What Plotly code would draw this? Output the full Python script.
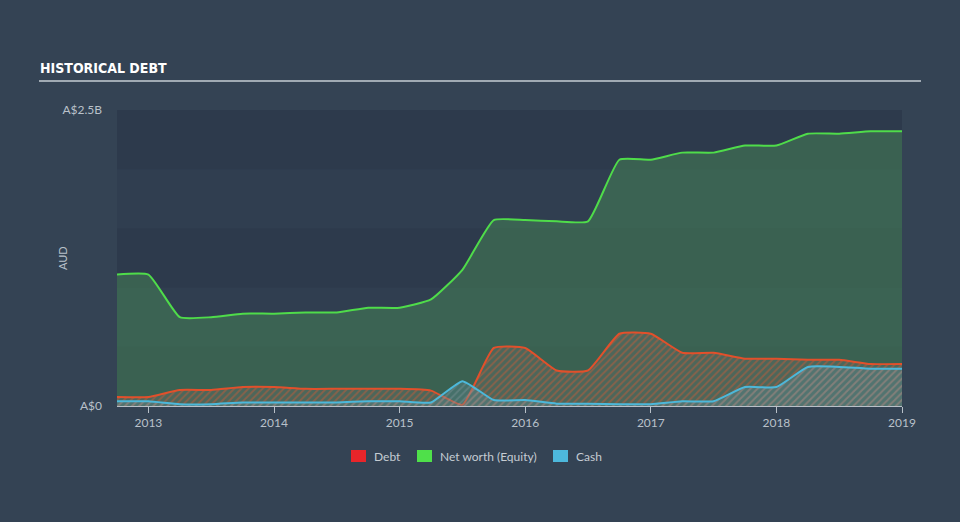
import plotly.graph_objects as go

# Quarterly time points (decimal years)
dates = [2012.75, 2013.0, 2013.25, 2013.5, 2013.75, 2014.0, 2014.25, 2014.5, 2014.75,
         2015.0, 2015.25, 2015.5, 2015.75, 2016.0, 2016.25, 2016.5, 2016.75, 2017.0,
         2017.25, 2017.5, 2017.75, 2018.0, 2018.25, 2018.5, 2018.75, 2019.0]

# Values in billions AUD
equity = [1.11, 1.11, 0.75, 0.75, 0.78, 0.78, 0.79, 0.79, 0.83,
          0.83, 0.90, 1.15, 1.57, 1.57, 1.56, 1.56, 2.08, 2.08,
          2.14, 2.14, 2.20, 2.20, 2.30, 2.30, 2.32, 2.32]
debt = [0.076, 0.076, 0.135, 0.135, 0.16, 0.16, 0.145, 0.145, 0.145,
        0.145, 0.13, 0.01, 0.49, 0.49, 0.30, 0.30, 0.61, 0.61,
        0.45, 0.45, 0.40, 0.40, 0.39, 0.39, 0.355, 0.355]
cash = [0.04, 0.04, 0.015, 0.015, 0.03, 0.03, 0.03, 0.03, 0.04,
        0.04, 0.03, 0.21, 0.05, 0.05, 0.02, 0.02, 0.015, 0.015,
        0.04, 0.04, 0.16, 0.16, 0.33, 0.33, 0.315, 0.315]

x_ticks = [2013, 2014, 2015, 2016, 2017, 2018, 2019]
y_ticks = [0, 2.5]
y_tick_labels = ["A$0", "A$2.5B"]

legend_names = ["Debt", "Net worth (Equity)", "Cash"]
legend_colors = ["#e8252a", "#4fe04a", "#4db8dc"]

BG = "#344354"
PLOT_BG = "#303e50"
GREEN = "#4fdc4a"
RED = "#e2502b"
BLUE = "#4cb8da"
TXT = "#b9c1ca"
FONT = "Lato"

# pixel helpers for plot area: x 117..902, y 110..406
PL, PR, PT, PB = 117, 902, 110, 406
def px(x): return (x - PL) / (PR - PL)
def py(y): return (PB - y) / (PB - PT)

fig = go.Figure()
SM = 0.45

fig.add_trace(go.Scatter(
    x=dates, y=equity, mode="lines", line=dict(color=GREEN, width=2, shape="spline", smoothing=SM),
    fill="tozeroy", fillcolor="rgba(70,130,85,0.55)", showlegend=False, hoverinfo="skip"))

fig.add_trace(go.Scatter(
    x=dates, y=debt, mode="lines", line=dict(color=RED, width=2, shape="spline", smoothing=SM),
    fill="tozeroy", fillcolor="rgba(0,0,0,0)",
    fillpattern=dict(shape="/", fgcolor="rgba(226,90,50,0.8)", bgcolor="rgba(110,110,105,0.35)",
                     size=5, solidity=0.35),
    showlegend=False, hoverinfo="skip"))

fig.add_trace(go.Scatter(
    x=dates, y=cash, mode="lines", line=dict(color=BLUE, width=2, shape="spline", smoothing=SM),
    fill="tozeroy", fillcolor="rgba(0,0,0,0)",
    fillpattern=dict(shape="/", fgcolor="rgba(150,160,170,0.6)", bgcolor="rgba(90,140,150,0.35)",
                     size=5, solidity=0.35),
    showlegend=False, hoverinfo="skip"))

shapes = []
annotations = []
band_edges = [0, 0.5, 1.0, 1.5, 2.0, 2.5]
for i in range(len(band_edges) - 1):
    if i % 2 == 0:
        shapes.append(dict(type="rect", xref="paper", yref="y", x0=0, x1=1,
                           y0=band_edges[i], y1=band_edges[i + 1],
                           fillcolor="rgba(20,30,45,0.10)", line=dict(width=0), layer="below"))
# title underline
shapes.append(dict(type="line", xref="paper", yref="paper", x0=px(39), x1=px(921),
                   y0=py(81), y1=py(81), line=dict(color="#c5ccd3", width=1.5)))

# custom legend (swatches + labels)
sw_x = [351, 417, 553]
for xs, name, col in zip(sw_x, legend_names, legend_colors):
    shapes.append(dict(type="rect", xref="paper", yref="paper", x0=px(xs), x1=px(xs + 15),
                       y0=py(462), y1=py(450), fillcolor=col, line=dict(width=0)))
    annotations.append(dict(text=name, xref="paper", yref="paper", x=px(xs + 21), y=py(456.5),
                            xanchor="left", yanchor="middle", showarrow=False,
                            font=dict(size=12, color="#c5ccd3")))

annotations.append(dict(text="<b>HISTORICAL DEBT</b>", xref="paper", yref="paper", x=px(38),
                        y=py(68), xanchor="left", yanchor="middle", showarrow=False,
                        font=dict(family="DejaVu Sans Condensed, DejaVu Sans, sans-serif",
                                  size=14, color="#ffffff")))
annotations.append(dict(text="AUD", xref="paper", yref="paper", x=px(62), y=0.5, textangle=-90,
                        xanchor="center", yanchor="middle", showarrow=False,
                        font=dict(size=11, color=TXT)))

fig.update_layout(
    width=960, height=522,
    margin=dict(l=PL, r=960 - PR, t=PT, b=522 - PB),
    paper_bgcolor=BG, plot_bgcolor=PLOT_BG,
    font=dict(family=FONT, color=TXT, size=12),
    shapes=shapes,
    annotations=annotations,
    showlegend=False,
    xaxis=dict(range=[2012.75, 2019.0], tickvals=x_ticks, ticktext=[str(t) for t in x_ticks],
               showgrid=False, zeroline=False, showline=True, linecolor="#b8c0c8", linewidth=1,
               ticks="outside", ticklen=6, tickcolor="#b8c0c8", tickfont=dict(size=12, color=TXT)),
    yaxis=dict(range=[0, 2.5], tickvals=y_ticks, ticktext=y_tick_labels, showgrid=False,
               zeroline=False, showline=False, ticks="", tickfont=dict(size=12, color=TXT),
               ticklabelstandoff=14),
    hovermode=False,
)

fig.write_html("out.html")
